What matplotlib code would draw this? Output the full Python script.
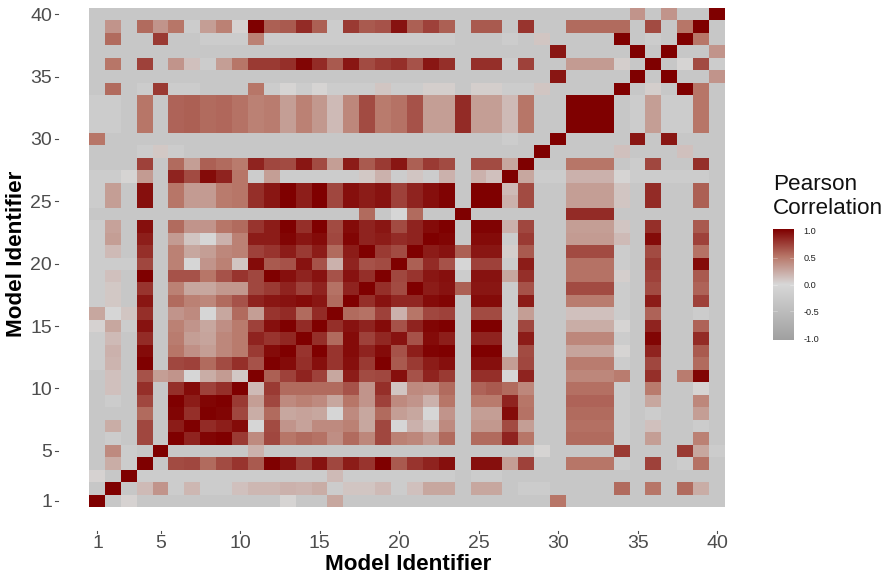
import numpy as np
from matplotlib import pyplot as plt
from matplotlib.colors import LinearSegmentedColormap

plt.rcParams['font.family'] = ['Liberation Sans', 'DejaVu Sans']

# z = background value of the grey cells, f = faintly lighter, b = lightest cells
z = -0.3
f = -0.2
b = -0.02
r01 = [1,z,.03,z,z,z,z,z,z,z, z,z,.02,z,z,.25,z,z,z,z, z,z,z,z,z,z,z,z,z,.5, z,z,z,z,z,z,z,z,z,z]
r02 = [z,1,z,.15,.35,f,.17,f,f,.12, .17,.17,.2,.18,.22,f,.1,.1,.15,f, .12,.25,.25,z,.25,.25,z,f,f,z, z,z,z,.55,z,.5,z,.55,.22,z]
r03 = [.03,z,1,f,f,f,f,f,f,f, f,f,f,f,f,.15,f,f,f,f, f,f,f,z,f,f,z,z,z,z, z,z,z,z,z,z,z,z,z,z]
r04 = [z,.22,f,1,z,.68,.7,.55,.68,.78, .62,1,.92,.75,.92,.7,.88,.78,1,.62, .78,.85,.93,z,.93,.93,.3,.72,z,z, .5,.5,.5,f,z,.72,z,f,.52,z]
r05 = [z,.4,f,z,1,z,z,z,z,z, .2,z,z,z,z,z,z,z,z,z, z,z,z,z,z,z,z,z,.02,z, z,z,z,.75,z,z,z,.75,.25,f]
r06 = [z,f,z,.7,z,1,.85,.97,1,.75, .4,.7,.5,.55,.52,.38,.55,.42,.7,.45, .42,.32,.55,z,.55,.55,.85,.5,z,z, .55,.55,.55,f,z,.3,z,z,.45,z]
r07 = [z,.22,z,.7,z,.88,1,.82,.87,.95, b,.68,.35,.28,.4,.4,.45,.25,.7,b, .2,.1,.4,z,.33,.33,.68,.3,z,z, .53,.53,.53,f,z,.12,z,z,f,z]
r08 = [z,z,z,.55,z,.97,.8,1,.97,.7, .22,.55,.25,.28,.25,b,.4,.25,.55,.3, .25,b,.35,z,.3,.3,.95,.52,z,z, .55,.55,.55,f,z,f,z,z,.3,z]
r09 = [z,f,z,.7,z,1,.88,.97,1,.75, .3,.7,.4,.45,.4,.25,.5,.35,.72,.4, .35,.2,.5,z,.48,.48,.85,.5,z,z, .58,.58,.58,f,z,.25,z,z,.42,z]
r10 = [z,.12,z,.8,z,.8,.95,.72,.8,1, .15,.75,.55,.55,.55,.55,.65,.35,.8,.1, .4,.38,.55,z,.58,.62,.55,.42,z,z, .53,.53,.53,f,z,.48,z,z,.02,z]
r11 = [z,.12,z,.65,.3,.35,b,.22,.32,.08, 1,.6,.72,.85,.72,.25,.88,.68,.7,.93, .65,.85,.75,z,.8,.8,b,.85,z,z, .42,.42,.42,.47,z,.8,z,.47,.97,z]
r12 = [f,.18,z,1,z,.7,.72,.55,.68,.8, .65,1,.95,.8,.93,.78,.93,.75,1,.62, .75,.88,.93,z,.93,.93,.3,.7,z,z, .47,.47,.47,f,z,.7,z,z,.55,z]
r13 = [f,.2,z,.95,z,.5,.37,.3,.42,.48, .75,.95,1,.78,1,.78,.95,.85,.95,.65, .87,.98,1,z,1,1,f,.68,z,z, .27,.27,.27,.02,z,.85,z,z,.62,z]
r14 = [f,.15,z,.82,z,.47,.3,.27,.42,.48, .85,.78,.83,1,.8,.55,.95,.72,.83,.92, .65,.95,.87,z,.85,.85,f,.88,z,z, .42,.42,.42,f,z,.97,z,z,.82,z]
r15 = [.03,.25,f,.92,z,.45,.35,.25,.38,.48, .72,.93,1,.82,1,.8,.92,.85,.95,.65, .85,.97,1,z,1,1,f,.7,z,z, .22,.22,.22,.02,z,.85,z,z,.58,z]
r16 = [.25,b,.1,.8,z,.35,.4,b,.25,.55, .3,.78,.82,.55,.82,1,.55,.52,.72,.2, .5,.7,.72,z,.68,.68,f,.3,z,z, .12,.12,.12,f,z,.58,z,z,f,z]
r17 = [f,.08,z,.9,z,.55,.45,.42,.55,.65, .85,.9,.92,.95,.9,.55,1,.8,.92,.83, .83,.95,.97,z,.95,.95,f,.88,z,z, .47,.47,.47,f,z,.88,z,z,.72,z]
r18 = [f,.08,z,.78,z,.45,.25,.25,.33,.33, .7,.75,.85,.72,.85,.52,.85,1,.8,.68, 1,.88,.92,.6,.9,.9,f,.65,z,z, .68,.68,.68,f,z,.68,z,z,.58,z]
r19 = [f,.12,z,1,z,.65,.65,.5,.65,.78, .7,1,.93,.85,.92,.65,.92,.8,1,.7, .78,.9,.93,f,.92,.92,.25,.8,z,z, .52,.52,.52,.05,z,.72,z,z,.62,z]
r20 = [f,f,f,.7,z,.45,b,.35,.45,.1, .95,.62,.65,.92,.65,.2,.85,.65,.68,1, .6,.82,.65,b,.72,.72,f,.88,z,z, .52,.52,.52,f,z,.75,z,z,.95,z]
r21 = [f,.15,z,.8,z,.45,.25,.3,.42,.45, .72,.78,.88,.75,.88,.55,.88,1,.75,.68, 1,.88,.92,.6,.9,.9,.05,.62,z,z, .68,.68,.68,f,z,.68,z,z,.52,z]
r22 = [f,.3,z,.87,z,.32,.1,b,.2,.45, .88,.88,.97,.9,.95,.7,.97,.85,.88,.82, .85,1,.97,z,.95,.95,f,.75,z,z, .32,.32,.32,.15,z,.95,z,z,.72,z]
r23 = [f,.28,z,.93,z,.55,.35,.35,.5,.55, .78,.88,1,.8,1,.68,.95,.85,.9,.68, .85,.95,1,z,.98,.98,.2,.7,z,z, .3,.3,.3,.1,z,.8,z,z,.62,z]
r24 = [z,z,z,z,z,z,z,z,z,z, z,z,z,z,z,z,z,.55,z,b, .55,z,z,1,z,z,z,z,z,z, .82,.82,.82,z,z,z,z,z,z,z]
r25 = [f,.3,z,.93,z,.5,.32,.32,.48,.5, .8,.9,1,.87,1,.7,.93,.88,.92,.72, .85,.93,.98,z,1,1,.2,.68,z,z, .3,.3,.3,.1,z,.82,z,z,.6,z]
r26 = [f,.3,z,.93,z,.5,.32,.32,.48,.5, .8,.9,1,.87,1,.7,.93,.88,.92,.72, .85,.93,.98,z,1,1,.15,.68,z,z, .3,.3,.3,.1,z,.82,z,z,.6,z]
r27 = [f,f,.02,.32,z,.85,.68,.95,.85,.5, f,.3,f,f,f,f,f,.08,.2,f, .1,f,.2,z,.2,.12,1,.25,f,f, .2,.2,.2,.02,f,f,f,f,f,z]
r28 = [z,z,z,.72,z,.55,.3,.6,.55,.48, .85,.7,.68,.9,.68,.3,.88,.62,.75,.9, .6,.75,.68,z,.68,.68,.25,1,z,z, .5,.5,.5,z,f,.7,z,z,.8,z]
r29 = [z,z,z,f,.08,f,z,z,z,z, z,z,z,z,z,z,z,z,z,z, z,z,z,z,z,z,z,z,1,z, z,z,z,.12,z,z,z,.12,z,z]
r30 = [.5,z,z,z,z,z,z,z,z,z, z,z,z,z,z,z,z,z,z,z, z,z,z,z,z,z,f,z,z,1, z,z,z,z,.9,z,.9,z,z,z]
r31 = [f,f,z,.5,z,.58,.6,.55,.57,.52, .45,.47,.3,.45,.33,.15,.42,.68,.48,.52, .65,.3,.3,.82,.3,.3,.15,.5,z,z, 1,1,1,z,f,.3,f,f,.5,z]
r32 = [f,f,z,.5,z,.58,.6,.55,.57,.52, .45,.47,.3,.45,.33,.15,.42,.68,.48,.52, .65,.3,.3,.82,.3,.3,.15,.5,z,z, 1,1,1,z,f,.3,f,f,.5,z]
r33 = [f,f,z,.5,z,.58,.6,.55,.57,.52, .45,.47,.3,.45,.33,.15,.42,.68,.48,.52, .65,.3,.3,.82,.3,.3,.15,.5,z,z, 1,1,1,z,f,.3,f,f,.5,z]
r34 = [z,.55,z,f,.75,f,f,z,z,z, .5,f,.02,f,.02,f,f,f,.1,f, f,.05,.05,z,.05,.05,f,f,.1,z, z,z,z,1,z,.05,z,1,.5,z]
r35 = [z,z,z,z,z,z,z,z,z,z, z,z,z,z,z,z,z,z,z,z, z,z,z,z,z,z,z,z,z,.9, z,z,z,z,1,z,1,z,z,.35]
r36 = [z,.5,z,.72,z,.35,.12,f,.3,.5, .75,.75,.8,.97,.82,.62,.9,.68,.75,.8, .65,.9,.8,z,.8,.8,f,.72,z,z, .32,.32,.32,.05,z,1,z,.02,.68,f]
r37 = [z,z,z,z,z,z,z,z,z,z, z,z,z,z,z,z,z,z,z,z, z,z,z,z,z,z,z,z,z,.9, z,z,z,z,1,z,1,z,z,.35]
r38 = [z,.55,z,z,.75,z,z,f,f,f, .45,f,f,f,f,f,f,f,f,f, f,f,f,z,z,z,f,z,.1,z, z,z,z,1,z,f,z,1,.5,z]
r39 = [z,.35,z,.55,.35,.5,f,.3,.45,.03, 1,.6,.62,.82,.6,f,.75,.62,.65,.92, .6,.72,.6,z,.62,.62,z,.78,z,z, .55,.55,.55,.55,z,.68,z,.5,1,z]
r40 = [z,z,z,z,z,z,z,z,z,z, z,z,z,z,z,z,z,z,z,z, z,z,z,z,z,z,z,z,z,z, z,z,z,z,.35,z,.35,z,z,1]

corr = np.array([r01,r02,r03,r04,r05,r06,r07,r08,r09,r10,r11,r12,r13,r14,r15,r16,r17,r18,r19,r20,
                 r21,r22,r23,r24,r25,r26,r27,r28,r29,r30,r31,r32,r33,r34,r35,r36,r37,r38,r39,r40])
ticks = [1, 5, 10, 15, 20, 25, 30, 35, 40]
cbar_ticks = [1.0, 0.5, 0.0, -0.5, -1.0]

W, H = 887, 575
grey = '#4d4d4d'
cmap = LinearSegmentedColormap.from_list('pearson', [(0, '#a0a0a0'), (0.5, '#d8d8d8'), (0.75, '#b8786a'), (1, '#7f0000')])

def box(x0, y0, x1, y1):
    # pixel box from the top left corner to figure fractions
    return [x0 / W, 1 - y1 / H, (x1 - x0) / W, (y1 - y0) / H]

fig = plt.figure(figsize=(W / 100, H / 100), dpi=100)
ax = fig.add_axes(box(89.5, 8, 725, 507))
ax.imshow(corr, origin='lower', aspect='auto', cmap=cmap, vmin=-1, vmax=1,
          extent=(0.5, 40.5, 0.5, 40.5), interpolation='nearest')
for s in ax.spines.values():
    s.set_visible(False)
ax.set_xticks(ticks)
ax.set_yticks(ticks)
ax.tick_params(axis='x', length=0, pad=20, labelsize=14, labelcolor=grey)
ax.tick_params(axis='y', length=0, pad=27, labelsize=14, labelcolor=grey)

# ticks sit away from the panel, next to the labels
for t in ticks:
    ax.plot([t, t], [-1.42, -1.6], color=grey, lw=0.8, clip_on=False)
    ax.plot([-1.65, -1.47], [t, t], color=grey, lw=0.8, clip_on=False)
ax.set_xlim(0.5, 40.5)
ax.set_ylim(0.5, 40.5)

fig.text(408 / W, 1 - 564 / H, 'Model Identifier', fontsize=16.2, fontweight='bold', ha='center', va='center', color='black')
fig.text(17 / W, 1 - 254 / H, 'Model Identifier', fontsize=16.2, fontweight='bold', rotation=90, ha='center', va='center', color='black')

fig.text(773 / W, 1 - 185 / H, 'Pearson', fontsize=16.2, ha='left', va='center', color='#111111')
fig.text(773 / W, 1 - 209 / H, 'Correlation', fontsize=16.2, ha='left', va='center', color='#111111')

cax = fig.add_axes(box(773, 229, 794, 340))
gradient = np.linspace(-1, 1, 256).reshape(-1, 1)
cax.imshow(gradient, origin='lower', aspect='auto', cmap=cmap, vmin=-1, vmax=1, extent=(0, 1, -1.03, 1.03))
for s in cax.spines.values():
    s.set_visible(False)
cax.set_xticks([])
cax.yaxis.tick_right()
cax.set_yticks(cbar_ticks)
cax.set_yticklabels(['%.1f' % v for v in cbar_ticks])
cax.tick_params(axis='y', length=0, pad=7, labelsize=6.6, labelcolor='#222222')
for v in cbar_ticks[1:-1]:
    cax.plot([0, 0.18], [v, v], color='white', lw=0.4, alpha=0.5)
    cax.plot([0.82, 1], [v, v], color='white', lw=0.4, alpha=0.5)
cax.set_xlim(0, 1)
cax.set_ylim(-1.03, 1.03)

fig.savefig('out.png', dpi=100)
